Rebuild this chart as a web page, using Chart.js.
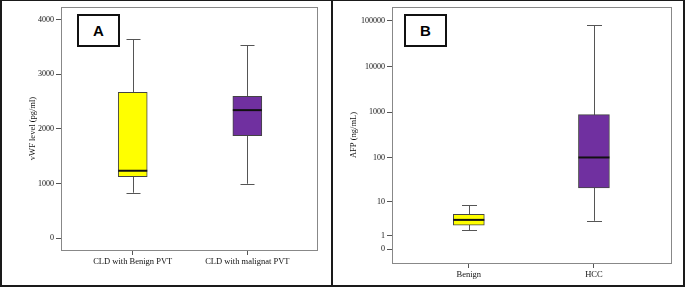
<!DOCTYPE html>
<html lang="en">
<head>
    <meta charset="UTF-8">
    <title>vWF and AFP box plots</title>
    <script src="https://cdn.jsdelivr.net/npm/chart.js"></script>
    <style>
        body { margin: 0; background: #fff; }
        #wrap { position: relative; width: 685px; height: 287px; overflow: hidden; }
        canvas { position: absolute; top: 0; }
        #chartA { left: 0; }
        #chartB { left: 333px; }
        .frame { position: absolute; left: 0; top: 0; width: 685px; height: 287px; box-sizing: border-box;
                 border-top: 1px solid #1a1a1a; border-left: 2px solid #1a1a1a;
                 border-right: 2px solid #1a1a1a; border-bottom: 2px solid #1a1a1a; }
        .divider { position: absolute; left: 331px; top: 0; width: 2px; height: 287px; background: #1a1a1a; }
        .tag { position: absolute; border: 2px solid #111; box-sizing: border-box; background: #fff;
               font: bold 15px "Liberation Sans", Arial, sans-serif; color: #000;
               display: flex; align-items: center; justify-content: center; }
    </style>
</head>
<body>
    <div id="wrap">
        <canvas id="chartA" width="331" height="287"></canvas>
        <canvas id="chartB" width="352" height="287"></canvas>
        <div class="frame"></div>
        <div class="divider"></div>
        <div class="tag" style="left:77px;top:14px;width:43px;height:33px;">A</div>
        <div class="tag" style="left:404px;top:14px;width:43px;height:33px;">B</div>
    </div>

    <script>
        // panel A: vWF level (pg/ml)
        const groupsA = ['CLD with Benign PVT', 'CLD with malignat PVT'];
        const minA = [834, 998];
        const q1A = [1126, 1876];
        const medA = [1236, 2345];
        const q3A = [2669, 2596];
        const maxA = [3643, 3534];
        const ticksA = [0, 1000, 2000, 3000, 4000];

        // panel B: AFP (ng/mL), axis is log10(x + 1)
        const groupsB = ['Benign', 'HCC'];
        const minB = [1.6, 3.2];
        const q1B = [2.35, 21];
        const medB = [3.4, 101];
        const q3B = [4.8, 880];
        const maxB = [8.3, 80000];
        const ticksB = [0, 1, 10, 100, 1000, 10000, 100000];

        const colors = ['#ffff00', '#7030a0'];
        const tickFont = { family: '"Liberation Serif", "Times New Roman", serif', size: 8 };
        const labelFont = { family: '"Liberation Serif", "Times New Roman", serif', size: 8.5 };

        function logp(v) { return Math.log10(v + 1); }
        function same(v) { return v; }

        // whiskers, caps, medians and the grey frame around the plot
        function boxPlugin(mins, meds, maxs, tf, capW) {
            return {
                id: 'boxparts',
                beforeDatasetsDraw(chart) {
                    const ctx = chart.ctx, xs = chart.scales.x, ys = chart.scales.y;
                    ctx.save();
                    ctx.strokeStyle = '#555';
                    ctx.lineWidth = 1;
                    mins.forEach((m, i) => {
                        const x = Math.round(xs.getPixelForValue(i + 1)) + 0.5;
                        const yLo = ys.getPixelForValue(tf(m));
                        const yHi = ys.getPixelForValue(tf(maxs[i]));
                        ctx.beginPath();
                        ctx.moveTo(x, yLo); ctx.lineTo(x, yHi);
                        ctx.moveTo(x - capW / 2, Math.round(yLo) + 0.5); ctx.lineTo(x + capW / 2, Math.round(yLo) + 0.5);
                        ctx.moveTo(x - capW / 2, Math.round(yHi) + 0.5); ctx.lineTo(x + capW / 2, Math.round(yHi) + 0.5);
                        ctx.stroke();
                    });
                    ctx.restore();
                },
                afterDatasetsDraw(chart) {
                    const ctx = chart.ctx, ys = chart.scales.y;
                    const meta = chart.getDatasetMeta(0);
                    ctx.save();
                    ctx.strokeStyle = '#111';
                    ctx.lineWidth = 2;
                    meds.forEach((m, i) => {
                        const bar = meta.data[i];
                        const y = ys.getPixelForValue(tf(m));
                        ctx.beginPath();
                        ctx.moveTo(bar.x - bar.width / 2, y);
                        ctx.lineTo(bar.x + bar.width / 2, y);
                        ctx.stroke();
                    });
                    const a = chart.chartArea;
                    ctx.strokeStyle = '#888';
                    ctx.lineWidth = 1;
                    ctx.strokeRect(Math.round(a.left) + 0.5, Math.round(a.top) + 0.5,
                        Math.round(a.right - a.left), Math.round(a.bottom - a.top));
                    ctx.restore();
                }
            };
        }

        function makeChart(id, o) {
            const data = o.groups.map((g, i) => ({ x: i + 1, y: [o.tf(o.q1[i]), o.tf(o.q3[i])] }));
            return new Chart(document.getElementById(id), {
                type: 'bar',
                data: {
                    datasets: [{
                        data: data,
                        backgroundColor: colors,
                        borderColor: '#444',
                        borderWidth: 1,
                        borderSkipped: false,
                        barThickness: o.barW
                    }]
                },
                options: {
                    responsive: false,
                    animation: false,
                    layout: { padding: o.pad },
                    plugins: { legend: { display: false }, tooltip: { enabled: false } },
                    scales: {
                        x: {
                            type: 'linear',
                            min: o.xMin,
                            max: o.xMax,
                            offset: false,
                            grid: { offset: false, drawOnChartArea: false, tickLength: 5, color: '#555' },
                            border: { display: false },
                            afterBuildTicks: s => { s.ticks = o.groups.map((g, i) => ({ value: i + 1 })); },
                            afterFit: s => { s.height = o.xH; },
                            ticks: {
                                font: labelFont, color: '#111', padding: 2, maxRotation: 0, autoSkip: false,
                                callback: (v, i) => o.groups[i]
                            }
                        },
                        y: {
                            min: o.yMin,
                            max: o.yMax,
                            grid: { drawOnChartArea: false, tickLength: 5, color: '#555' },
                            border: { display: false },
                            afterBuildTicks: s => { s.ticks = o.ticks.map(t => ({ value: o.tf(t) })); },
                            afterFit: s => { s.width = o.yW; },
                            ticks: {
                                font: tickFont, color: '#111', padding: 2, autoSkip: false,
                                callback: (v, i) => String(o.ticks[i])
                            },
                            title: {
                                display: true, text: o.title, font: labelFont, color: '#111',
                                padding: 0
                            }
                        }
                    }
                },
                plugins: [boxPlugin(o.min, o.med, o.max, o.tf, o.capW)]
            });
        }

        makeChart('chartA', {
            groups: groupsA, min: minA, q1: q1A, med: medA, q3: q3A, max: maxA, ticks: ticksA,
            tf: same, title: 'vWF level (pg/ml)',
            xMin: 0.374, xMax: 2.608, yMin: -214, yMax: 4232,
            pad: { left: 28, right: 14, top: 7, bottom: 0 }, yW: 33, xH: 37,
            barW: 29, capW: 14
        });

        makeChart('chartB', {
            groups: groupsB, min: minB, q1: q1B, med: medB, q3: q3B, max: maxB, ticks: ticksB,
            tf: logp, title: 'AFP (ng/mL)',
            xMin: 0.386, xMax: 2.616, yMin: -0.3, yMax: 5.3,
            pad: { left: 16, right: 14, top: 7, bottom: 0 }, yW: 43, xH: 24,
            barW: 31, capW: 15
        });
    </script>
</body>
</html>
